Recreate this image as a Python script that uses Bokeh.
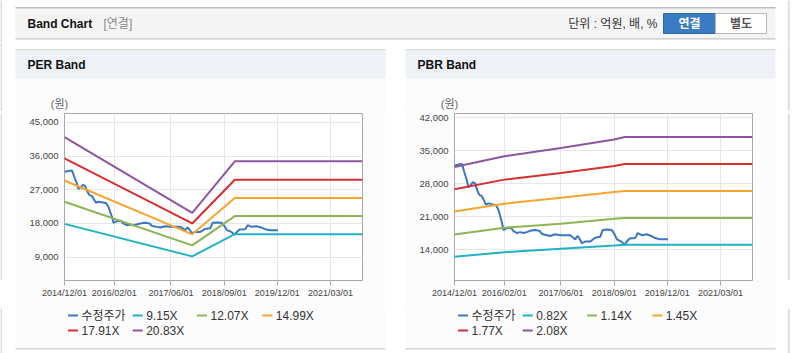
import pandas as pd
from bokeh.plotting import figure
from bokeh.models import (Range1d, FixedTicker, DatetimeTickFormatter, NumeralTickFormatter,
                          ColumnDataSource)
from bokeh.layouts import column, row
from bokeh.embed import file_html
from bokeh.resources import INLINE
from bokeh.core.properties import value

# ---------------- data ----------------
price_dates = ["2014-12-01", "2015-01-19", "2015-02-03", "2015-02-22", "2015-03-16", "2015-03-30",
               "2015-04-20", "2015-05-07", "2015-05-27", "2015-06-15", "2015-07-02", "2015-07-23",
               "2015-08-06", "2015-08-27", "2015-09-18", "2015-10-16", "2015-11-24", "2015-12-13",
               "2016-01-12", "2016-01-25", "2016-02-24", "2016-03-28", "2016-04-19", "2016-05-19",
               "2016-06-16", "2016-07-14", "2016-08-13", "2016-09-10", "2016-10-24", "2016-11-30",
               "2016-12-20", "2017-02-02", "2017-03-01", "2017-04-13", "2017-05-26", "2017-07-08",
               "2017-08-20", "2017-10-01", "2017-10-22", "2017-11-07", "2017-11-28", "2017-12-27",
               "2018-02-08", "2018-03-22", "2018-05-04", "2018-05-25", "2018-06-30", "2018-08-12",
               "2018-09-04", "2018-09-25", "2018-11-01", "2018-11-29", "2018-12-19", "2019-01-11",
               "2019-02-28", "2019-03-22", "2019-04-25", "2019-06-07", "2019-07-16", "2019-08-19",
               "2019-10-01", "2019-12-07"]
price = [31830, 32100, 32180, 30560, 28780, 27250, 27700, 28320, 28050, 26520, 25630, 25360,
         24740, 23550, 23820, 23660, 23390, 22480, 19780, 18160, 18620, 18700, 18000, 17540,
         17730, 17540, 17730, 18000, 18160, 18000, 17350, 17090, 16920, 17270, 17090, 17090,
         17090, 16200, 16920, 16380, 15390, 15740, 15740, 16550, 16730, 18160, 18270, 18160,
         17270, 16200, 15740, 15040, 15740, 16380, 16470, 17540, 17090, 17270, 16920, 16470,
         16200, 16200]

x_start = "2014-12-01"
x_end = "2021-12-01"
x_tick_dates = ["2014-12-01", "2016-02-01", "2017-06-01", "2018-09-01", "2019-12-01", "2021-03-01"]

# PER band
per_dates = ["2014-12-01", "2017-12-01", "2018-12-01", "2021-12-01"]
per_labels = ["9.15X", "12.07X", "14.99X", "17.91X", "20.83X"]
per_915 = [17890, 9200, 15120, 15120]
per_1207 = [23820, 12150, 19970, 19970]
per_1499 = [29480, 15100, 24820, 24820]
per_1791 = [35410, 18000, 29670, 29670]
per_2083 = [41070, 20860, 34600, 34600]
per_y_ticks = [9000, 18000, 27000, 36000, 45000]

# PBR band
pbr_dates = ["2014-12-01", "2016-02-01", "2017-06-01", "2018-09-01", "2018-12-01", "2021-12-01"]
pbr_labels = ["0.82X", "1.14X", "1.45X", "1.77X", "2.08X"]
pbr_082 = [12500, 13490, 14210, 14910, 15050, 15050]
pbr_114 = [17250, 18670, 19510, 20580, 20700, 20700]
pbr_145 = [22120, 23760, 25030, 26220, 26430, 26430]
pbr_177 = [26790, 28850, 30250, 31730, 32160, 32160]
pbr_208 = [31520, 33790, 35550, 37330, 37880, 37880]
pbr_y_ticks = [14000, 21000, 28000, 35000, 42000]

price_label = "수정주가"
price_color = "#3a76c4"
band_colors = ["#1fb2c7", "#8cb454", "#f5a52f", "#d43030", "#8e54a0"]

FONT = "'Liberation Sans', 'Noto Sans CJK KR', sans-serif"
BODY = "#fcfcfc"
BORDER = "#cfcfcf"


def ms(d):
    return pd.Timestamp(d).value / 1e6


def deco(x0, x1, y0, y1):
    """A plain drawing surface whose frame covers the whole figure, in page pixel coords."""
    f = figure(width=int(round(x1 - x0)), height=int(round(y1 - y0)),
               x_range=Range1d(x0, x1), y_range=Range1d(y1, y0),
               output_backend="svg", toolbar_location=None, min_border=0,
               x_axis_location=None, y_axis_location=None)
    f.outline_line_color = None
    f.grid.visible = False
    f.background_fill_color = "white"
    f.border_fill_color = "white"
    return f


def rect(f, x0, x1, y0, y1, color, line=None):
    f.quad(left=[x0], right=[x1], top=[y0], bottom=[y1], fill_color=color, line_color=line)


def txt(f, x, y, s, size, color, bold=False, align="left"):
    f.text(x=[x], y=[y], text=[s], text_font=value(FONT), text_font_size=f"{size}px",
           text_font_style="bold" if bold else "normal", text_baseline="middle",
           text_align=align, text_color=color)


# ---------------- header ----------------
h = deco(0, 792, 0, 42)
rect(h, 0, 1.3, 0, 42, BORDER)
rect(h, 787.7, 789, 0, 42, BORDER)
rect(h, 15, 775, 8, 38, "#f4f4f4")
rect(h, 15, 775, 6.5, 8, "#bdbdbd")
rect(h, 15, 775, 37.7, 38.9, "#c4c4c4")
txt(h, 27, 23.3, "Band Chart", 12, "#111111", bold=True)
txt(h, 103, 23.3, "[연결]", 12, "#8a8a8a")
txt(h, 657, 23.3, "단위 : 억원, 배, %", 12, "#333333", align="right")
rect(h, 663, 715, 13, 33, "#3a7cc2", line="#2d69a8")
rect(h, 715, 766, 13, 33, "white", line="#bbbbbb")
txt(h, 689, 23.3, "연결", 12, "white", bold=True, align="center")
txt(h, 740.5, 23.3, "별도", 12, "#555555", bold=True, align="center")

TOP_Y0, TOP_Y1 = 42, 111
CH_Y0, CH_Y1 = 111, 308
BOT_Y0, BOT_Y1 = 308, 353


def chart(band_dates, bands, y_range, y_ticks):
    p = figure(width=370, height=CH_Y1 - CH_Y0, x_axis_type="datetime",
               x_range=Range1d(ms(x_start), ms(x_end)), y_range=Range1d(*y_range),
               output_backend="svg", toolbar_location=None,
               min_border_left=49, min_border_right=23,
               min_border_top=113 - CH_Y0, min_border_bottom=CH_Y1 - 280)
    p.background_fill_color = "white"
    p.border_fill_color = BODY
    p.outline_line_color = "#a8a8a8"
    p.outline_line_width = 1

    xt = FixedTicker(ticks=[ms(d) for d in x_tick_dates])
    yt = FixedTicker(ticks=y_ticks)
    p.xaxis.ticker = xt
    p.xgrid.ticker = xt
    p.yaxis.ticker = yt
    p.ygrid.ticker = yt
    fmt = "%Y/%m/%d"
    p.xaxis.formatter = DatetimeTickFormatter(years=fmt, months=fmt, days=fmt, hours=fmt,
                                              hourmin=fmt, minutes=fmt, minsec=fmt, seconds=fmt,
                                              milliseconds=fmt, microseconds=fmt)
    p.yaxis.formatter = NumeralTickFormatter(format="0,0")
    p.grid.grid_line_color = "#e6e6e6"
    p.xaxis.axis_line_color = None
    p.xaxis.major_tick_line_color = "#aaaaaa"
    p.xaxis.major_tick_out = 5
    p.xaxis.major_tick_in = 0
    p.xaxis.minor_tick_line_color = None
    p.xaxis.major_label_standoff = 2
    p.xaxis.major_label_text_font = FONT
    p.xaxis.major_label_text_font_size = "9px"
    p.xaxis.major_label_text_color = "#444444"
    p.yaxis.axis_line_color = None
    p.yaxis.major_tick_line_color = None
    p.yaxis.minor_tick_line_color = None
    p.yaxis.major_tick_out = 0
    p.yaxis.major_tick_in = 0
    p.yaxis.major_label_standoff = 6
    p.yaxis.major_label_text_font = FONT
    p.yaxis.major_label_text_font_size = "9.5px"
    p.yaxis.major_label_text_color = "#444444"

    ps = ColumnDataSource(dict(x=pd.to_datetime(price_dates), y=price))
    p.line("x", "y", source=ps, color=price_color, line_width=2)
    bx = pd.to_datetime(band_dates)
    for vals, c in zip(bands, band_colors):
        p.line(x=bx, y=vals, color=c, line_width=2)
    return p


def make_panel(page_x0, width, panel_x0, title, band_labels, band_dates, bands,
               y_range, y_ticks, border_x):
    px0, px1 = panel_x0, panel_x0 + 370
    page_x1 = page_x0 + width

    # top part: title band and unit label
    top = deco(page_x0, page_x1, TOP_Y0, TOP_Y1)
    rect(top, px0, px1, 48.7, 50, "#cccccc")
    rect(top, px0, px1, 50, 78, "#eef2f7")
    rect(top, px0, px1, 78, TOP_Y1, BODY)
    rect(top, border_x, border_x + 1.3, TOP_Y0, TOP_Y1, BORDER)
    txt(top, px0 + 12, 64.5, title, 12, "#111111", bold=True)
    txt(top, px0 + 44, 103, "(원)", 11, "#666666", align="center")

    # middle: side strips and chart
    sl = deco(page_x0, px0, CH_Y0, CH_Y1)
    sr = deco(px1, page_x1, CH_Y0, CH_Y1)
    for s in (sl, sr):
        rect(s, border_x, border_x + 1.3, CH_Y0, CH_Y1, BORDER)
    p = chart(band_dates, bands, y_range, y_ticks)

    # bottom: legend
    bot = deco(page_x0, page_x1, BOT_Y0, BOT_Y1)
    rect(bot, px0, px1, BOT_Y0, 347.8, BODY)
    rect(bot, px0, px1, 347.8, 348.9, "#cccccc")
    rect(bot, border_x, border_x + 1.3, BOT_Y0, BOT_Y1, BORDER)
    names = [price_label] + band_labels
    colors = [price_color] + band_colors
    col_x = [66, 130.7, 195, 260.3]
    for i, (n, c) in enumerate(zip(names, colors)):
        r, k = divmod(i, 4)
        tx = px0 + col_x[k]
        ty = 315 + 15 * r
        rect(bot, tx - 13.5, tx - 3.5, ty - 1, ty + 1, c)
        txt(bot, tx, ty, n, 12, "#333333")

    return column(top, row(sl, p, sr, spacing=0), bot, spacing=0)


left = make_panel(0, 395, 15, "PER Band", per_labels, per_dates,
                  [per_915, per_1207, per_1499, per_1791, per_2083],
                  (2750, 47400), per_y_ticks, 0)
right = make_panel(395, 397, 405, "PBR Band", pbr_labels, pbr_dates,
                   [pbr_082, pbr_114, pbr_145, pbr_177, pbr_208],
                   (7490, 42850), pbr_y_ticks, 787.7)

layout = column(h, row(left, right, spacing=0), spacing=0)
open("out.html", "w").write(file_html(layout, INLINE))
